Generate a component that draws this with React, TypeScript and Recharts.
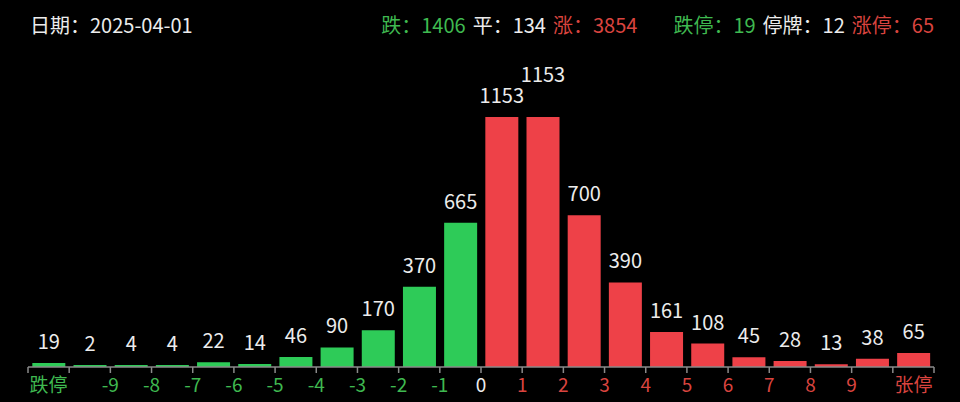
import { Bar, BarChart, Cell, LabelList, XAxis, YAxis } from "recharts";

// buckets: 跌停, then 1% bands from -10 to +10, then 涨停
const counts = [19, 2, 4, 4, 22, 14, 46, 90, 170, 370, 665, 1153, 1153, 700, 390, 161, 108, 45, 28, 13, 38, 65];
// label drawn on the left edge of each bucket (first and last are centered)
const edgeLabels = ["跌停", "", "-9", "-8", "-7", "-6", "-5", "-4", "-3", "-2", "-1", "0", "1", "2", "3", "4", "5", "6", "7", "8", "9", "张停"];

const summaryLeft = [
  { label: "跌", value: 1406, tone: "down" },
  { label: "平", value: 134, tone: "flat" },
  { label: "涨", value: 3854, tone: "up" },
];
const summaryRight = [
  { label: "跌停", value: 19, tone: "down" },
  { label: "停牌", value: 12, tone: "flat" },
  { label: "涨停", value: 65, tone: "up" },
];

const DATE = "2025-04-01";
const FONT = "'Noto Sans CJK SC', 'Noto Sans', sans-serif";

const BAR_GREEN = "#2ecb58";
const BAR_RED = "#ee4148";
const TEXT_GREEN = "#3fb950";
const TEXT_RED = "#d9443f";
const TEXT = "#ececec";

const W = 960;
const H = 402;
const M = { top: 117, right: 26, bottom: 0, left: 28 };
const BAND = (W - M.left - M.right) / counts.length;

const data = counts.map((count, i) => ({ key: String(i), count, edge: edgeLabels[i] }));

const toneColor = (tone: string) => (tone === "down" ? TEXT_GREEN : tone === "up" ? TEXT_RED : TEXT);

function AxisTick(props: any) {
  const { x, y, payload } = props;
  const i = payload.index;
  const last = i === counts.length - 1;
  const label = edgeLabels[i];
  const centered = i === 0 || last;
  const lx = centered ? x : x - BAND / 2;
  const color = i < 11 ? TEXT_GREEN : i === 11 ? TEXT : TEXT_RED;
  return (
    <g>
      <line x1={x - BAND / 2} x2={x - BAND / 2} y1={y - 6} y2={y} stroke="#8a8a8a" strokeWidth={1.5} />
      {last && <line x1={x + BAND / 2} x2={x + BAND / 2} y1={y - 6} y2={y} stroke="#8a8a8a" strokeWidth={1.5} />}
      {label && (
        <text x={lx} y={y + 19} textAnchor="middle" fill={color} fontSize={19} fontFamily={FONT}>
          {label}
        </text>
      )}
    </g>
  );
}

function ValueLabel(props: any) {
  const { x, y, width, value, index } = props;
  // the two equal peaks overlap, so the second one is lifted
  const lift = index === 12 ? 21 : 0;
  return (
    <text x={x + width / 2} y={y - 14 - lift} textAnchor="middle" fill={TEXT} fontSize={20} fontFamily={FONT}>
      {value}
    </text>
  );
}

function Summary({ items }: { items: { label: string; value: number; tone: string }[] }) {
  return (
    <div style={{ display: "flex", gap: 7 }}>
      {items.map((it) => (
        <span key={it.label} style={{ color: it.tone === "flat" ? TEXT : toneColor(it.tone) }}>
          {it.label}：{it.value}
        </span>
      ))}
    </div>
  );
}

export default function App() {
  return (
    <div style={{ position: "absolute", left: 0, top: 0, width: W, height: H, background: "#000", fontFamily: FONT, overflow: "hidden" }}>
      <div style={{ position: "absolute", left: 30, top: 10, fontSize: 20, color: TEXT }}>日期：{DATE}</div>
      <div style={{ position: "absolute", right: 26, top: 10, fontSize: 20, display: "flex", gap: 36 }}>
        <Summary items={summaryLeft} />
        <Summary items={summaryRight} />
      </div>
      <BarChart width={W} height={H} data={data} margin={M} barCategoryGap="10.5%">
        <YAxis hide domain={[0, 1153]} />
        <XAxis
          dataKey="key"
          interval={0}
          height={35}
          tickLine={false}
          tickSize={6}
          tickMargin={0}
          axisLine={{ stroke: "#8a8a8a", strokeWidth: 1.5 }}
          tick={<AxisTick />}
        />
        <Bar dataKey="count" minPointSize={2} isAnimationActive={false}>
          {data.map((d, i) => (
            <Cell key={d.key} fill={i < 11 ? BAR_GREEN : BAR_RED} />
          ))}
          <LabelList dataKey="count" content={<ValueLabel />} />
        </Bar>
      </BarChart>
    </div>
  );
}
